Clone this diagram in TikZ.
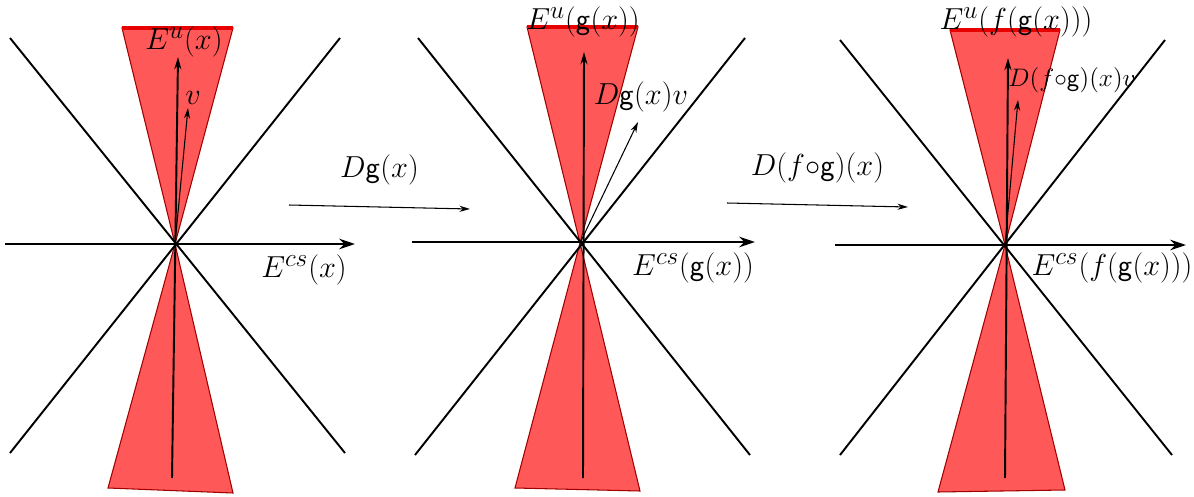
\documentclass[tikz,border=0pt]{standalone}
\usepackage{amsmath}
\usepackage{xcolor}
\usepackage{tikz}
\usetikzlibrary{arrows.meta, positioning, calc}
\DeclareMathSizes{17}{17}{14}{10}
\DeclareMathSizes{14}{14}{10}{8}

\definecolor{conered}{RGB}{255,88,88}
\definecolor{edgered}{RGB}{230,0,0}

\begin{document}
\begin{tikzpicture}[
    x=0.02cm, y=-0.02cm,
    axis/.style={-{Stealth[length=9pt, width=6pt]}, line width=1.4pt},
    diag/.style={line width=1.1pt},
    cone/.style={fill=conered, draw=edgered!70!black, line width=0.6pt},
    rim/.style={edgered, line width=2pt},
    vec/.style={-{Stealth[length=7pt, width=4pt]}, line width=1.1pt},
    thin vec/.style={-{Stealth[length=6pt, width=3.5pt]}, line width=0.6pt},
    lbl/.style={inner sep=0pt, font=\fontsize{17}{20}\selectfont},
    small lbl/.style={inner sep=0pt, font=\fontsize{14}{16}\selectfont}
  ]
    \useasboundingbox (0,0) rectangle (1194,497);

    % Panel 1: the point x
    \coordinate (o1) at (175,244);
    \fill[cone] (o1) -- (122,28) -- (233,28) -- cycle;
    \fill[cone] (o1) -- (108,488) -- (233,493) -- cycle;
    \coordinate (r1a) at (122,28);
    \coordinate (r1b) at (233,28);
    \draw[rim] (r1a) -- (r1b);
    \coordinate (d1a) at (10,38);
    \coordinate (d1b) at (345,453);
    \coordinate (d1c) at (340,38);
    \coordinate (d1d) at (10,453);
    \draw[diag] (d1a) -- (d1b);
    \draw[diag] (d1c) -- (d1d);
    \coordinate (h1w) at (5,244);
    \coordinate (h1e) at (355,244);
    \draw[axis] (h1w) -- (h1e);
    \coordinate (u1s) at (172,478);
    \coordinate (u1t) at (178,57);
    \draw[vec] (u1s) -- (u1t);
    \coordinate (v1t) at (188,108);
    \draw[thin vec] (o1) -- (v1t);
    \node[lbl] (eu1) at (184,42) {$E^{u}(x)$};
    \node[lbl] (v1) at (193,98) {$v$};
    \node[lbl] (ecs1) at (304,270) {$E^{cs}(x)$};

    % Map Dg(x)
    \coordinate (m1a) at (289,205);
    \coordinate (m1b) at (470,209);
    \draw[thin vec] (m1a) -- node[lbl, above=12pt] (dg) {$D\mathsf{g}(x)$} (m1b);

    % Panel 2: the point g(x)
    \coordinate (o2) at (580,243);
    \fill[cone] (o2) -- (527,27) -- (638,27) -- cycle;
    \fill[cone] (o2) -- (515,488) -- (640,491) -- cycle;
    \coordinate (r2a) at (527,27);
    \coordinate (r2b) at (638,27);
    \draw[rim] (r2a) -- (r2b);
    \coordinate (d2a) at (418,38);
    \coordinate (d2b) at (750,455);
    \coordinate (d2c) at (745,38);
    \coordinate (d2d) at (415,455);
    \draw[diag] (d2a) -- (d2b);
    \draw[diag] (d2c) -- (d2d);
    \coordinate (h2w) at (412,242);
    \coordinate (h2e) at (755,242);
    \draw[axis] (h2w) -- (h2e);
    \coordinate (u2s) at (583,478);
    \coordinate (u2t) at (584,52);
    \draw[vec] (u2s) -- (u2t);
    \coordinate (v2t) at (638,122);
    \draw[thin vec] (o2) -- (v2t);
    \node[lbl] (eu2) at (583,22) {$E^{u}(\mathsf{g}(x))$};
    \node[lbl] (v2) at (641,97) {$D\mathsf{g}(x)v$};
    \node[lbl] (ecs2) at (693,268) {$E^{cs}(\mathsf{g}(x))$};

    % Map D(f o g)(x)
    \coordinate (m2a) at (727,203);
    \coordinate (m2b) at (908,207);
    \draw[thin vec] (m2a) -- node[lbl, above=12pt] (dfg) {$D(f{\circ}\mathsf{g})(x)$} (m2b);

    % Panel 3: the point f(g(x))
    \coordinate (o3) at (1005,245);
    \fill[cone] (o3) -- (950,30) -- (1060,30) -- cycle;
    \fill[cone] (o3) -- (938,492) -- (1065,490) -- cycle;
    \coordinate (r3a) at (950,30);
    \coordinate (r3b) at (1060,30);
    \draw[rim] (r3a) -- (r3b);
    \coordinate (d3a) at (840,40);
    \coordinate (d3b) at (1172,455);
    \coordinate (d3c) at (1165,40);
    \coordinate (d3d) at (840,455);
    \draw[diag] (d3a) -- (d3b);
    \draw[diag] (d3c) -- (d3d);
    \coordinate (h3w) at (835,245);
    \coordinate (h3e) at (1186,245);
    \draw[axis] (h3w) -- (h3e);
    \coordinate (u3s) at (1005,478);
    \coordinate (u3t) at (1008,58);
    \draw[vec] (u3s) -- (u3t);
    \coordinate (v3t) at (1018,100);
    \draw[thin vec] (o3) -- (v3t);
    \node[lbl] (eu3) at (1016,22) {$E^{u}(f(\mathsf{g}(x)))$};
    \node[small lbl] (v3) at (1072,80) {$D(f{\circ}\mathsf{g})(x)v$};
    \node[lbl] (ecs3) at (1112,268) {$E^{cs}(f(\mathsf{g}(x)))$};
  \end{tikzpicture}
\end{document}
